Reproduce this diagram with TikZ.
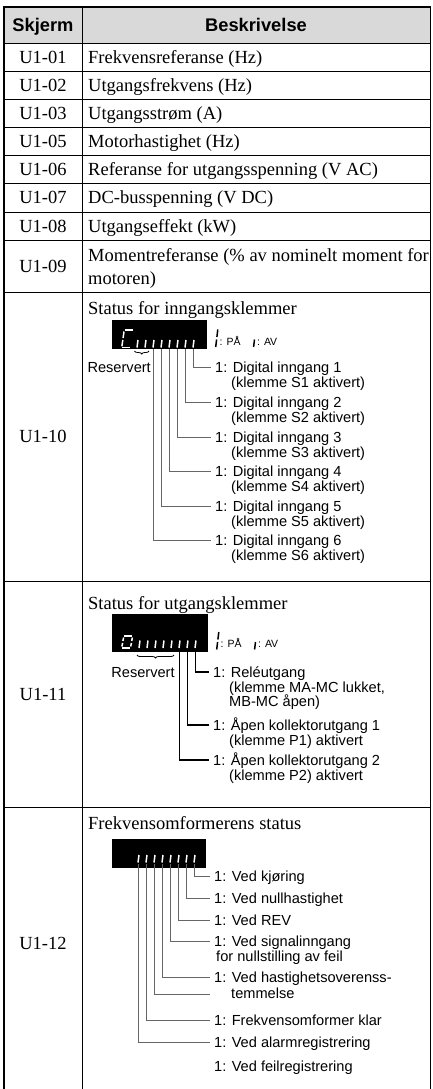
\documentclass[tikz,border=0pt]{standalone}
\usepackage{fontspec}
\setmainfont{Liberation Serif}
\setsansfont{Liberation Sans}
\usetikzlibrary{decorations.pathreplacing}
\definecolor{hdrgray}{gray}{0.85}
\definecolor{leadgray}{gray}{0.4}
\begin{document}
\begin{tikzpicture}[x=1pt,y=-1pt,
  outerline/.style={line width=1.5pt},
  innerline/.style={line width=0.9pt},
  hdr/.style={font=\sffamily\bfseries\fontsize{18.3}{20}\selectfont, inner sep=0pt, text height=13.1pt, text depth=0pt},
  code/.style={font=\fontsize{18.5}{22}\selectfont, inner sep=0pt, text height=12.2pt, text depth=0pt},
  desc/.style={font=\fontsize{18.5}{22}\selectfont, inner sep=0pt, text height=12.2pt, text depth=0pt, anchor=west},
  lbl/.style={font=\sffamily\fontsize{14.6}{15}\selectfont, inner sep=0pt, text height=10.5pt, text depth=0pt, anchor=west},
  tinytxt/.style={font=\sffamily\fontsize{10.5}{12}\selectfont, inner sep=0pt, text height=7.5pt, text depth=0pt, anchor=west},
  lcd/.style={fill=black, draw=none},
  seg/.style={white, line width=1.5pt},
  segb/.style={black, line width=1.5pt},
  leadA/.style={leadgray, line width=1pt},
  leadB/.style={black, line width=1.3pt},
  rbrace/.style={decorate, decoration={brace, mirror, amplitude=3pt}, line width=0.8pt},
]
\useasboundingbox (0,0) rectangle (432,1089);
% ---------- table grid ----------
\fill[hdrgray] (4,7) rectangle (430.5,43);
\foreach \yy in {43,71,99,127,155,183,212,240,292,581,807}
  \draw[innerline] (4,\yy) -- (430.5,\yy);
\draw[innerline] (82,7) -- (82,1089);
\draw[outerline] (4,1089) -- (4,7) -- (430.5,7) -- (430.5,1089);
% ---------- header ----------
\node[hdr] (h1) at (43,25) {Skjerm};
\node[hdr] (h2) at (256,25) {Beskrivelse};
% ---------- codes ----------
\node[code] (c01) at (43,57) {U1-01};
\node[code] (c02) at (43,85) {U1-02};
\node[code] (c03) at (43,113) {U1-03};
\node[code] (c05) at (43,141) {U1-05};
\node[code] (c06) at (43,169) {U1-06};
\node[code] (c07) at (43,197.5) {U1-07};
\node[code] (c08) at (43,226) {U1-08};
\node[code] (c09) at (43,266) {U1-09};
\node[code] (c10) at (43,436.5) {U1-10};
\node[code] (c11) at (43,694) {U1-11};
\node[code] (c12) at (43,943) {U1-12};
% ---------- descriptions ----------
\node[desc] (d01) at (88,57) {Frekvensreferanse (Hz)};
\node[desc] (d02) at (88,85) {Utgangsfrekvens (Hz)};
\node[desc] (d03) at (88,113) {Utgangsstrøm (A)};
\node[desc] (d05) at (88,141) {Motorhastighet (Hz)};
\node[desc] (d06) at (88,169) {Referanse for utgangsspenning (V AC)};
\node[desc] (d07) at (88,197.5) {DC-busspenning (V DC)};
\node[desc] (d08) at (88,226) {Utgangseffekt (kW)};
\node[desc] (d09a) at (88,255) {Momentreferanse (\% av nominelt moment for};
\node[desc] (d09b) at (88,278) {motoren)};
\node[desc] (d10) at (88,308) {Status for inngangsklemmer};
\node[desc] (d11) at (88,603) {Status for utgangsklemmer};
\node[desc] (d12) at (88,823) {Frekvensomformerens status};

% ================= U1-10 =================
\fill[lcd] (112,320) rectangle (207,349);
% C glyph
\draw[seg] (124.5,330) -- (132.5,330);
\draw[seg] (124,331.5) -- (123.1,338);
\draw[seg] (122.8,340) -- (121.9,346.3);
\draw[seg] (122.3,347.3) -- (130,347.3);
\foreach \k in {0,...,7}{
  \pgfmathsetmacro\mx{137+8*\k}
  \draw[seg] (\mx,347.5) -- ++(1,-7.5);
  \coordinate (a\k) at (\mx+0.5,349);
}
% legend
\draw[segb] (217.8,329.5) -- (216.9,337);
\draw[segb] (216.6,339.5) -- (215.7,347);
\node[tinytxt] (pa10) at (219.5,342) {: PÅ};
\draw[segb] (254.5,339.5) -- (253.6,347);
\node[tinytxt] (av10) at (257,342) {: AV};
% reserved
\draw[rbrace] (134.5,351) -- (149,351);
\node[lbl, anchor=east] (r10) at (151,367) {Reservert};
% labels
\node[lbl] (i1) at (215,367) {1: Digital inngang 1};
\node[lbl] (i1b) at (231,382) {(klemme S1 aktivert)};
\node[lbl] (i2) at (215,402) {1: Digital inngang 2};
\node[lbl] (i2b) at (231,417) {(klemme S2 aktivert)};
\node[lbl] (i3) at (215,437) {1: Digital inngang 3};
\node[lbl] (i3b) at (231,452) {(klemme S3 aktivert)};
\node[lbl] (i4) at (215,471) {1: Digital inngang 4};
\node[lbl] (i4b) at (231,486) {(klemme S4 aktivert)};
\node[lbl] (i5) at (215,506) {1: Digital inngang 5};
\node[lbl] (i5b) at (231,521) {(klemme S5 aktivert)};
\node[lbl] (i6) at (215,540) {1: Digital inngang 6};
\node[lbl] (i6b) at (231,555) {(klemme S6 aktivert)};
\foreach \k/\n in {7/1,6/2,5/3,4/4,3/5,2/6}
  \draw[leadA] (a\k) |- ([xshift=-4pt]i\n.west);

% ================= U1-11 =================
\fill[lcd] (112,614) rectangle (208,652);
% O glyph
\draw[seg] (124.3,636) -- (131.8,636);
\draw[seg] (123.6,637.5) -- (122.9,641);
\draw[seg] (122.6,643) -- (121.9,646.5);
\draw[seg] (122.4,648) -- (130,648);
\draw[seg] (132.4,637.5) -- (131.7,641);
\draw[seg] (131.4,643) -- (130.7,646.5);
\foreach \k in {0,...,7}{
  \pgfmathsetmacro\mx{139+8*\k}
  \draw[seg] (\mx,648) -- ++(1,-7.5);
  \coordinate (b\k) at (\mx+0.5,652);
}
% legend
\draw[segb] (218.8,632) -- (217.9,639.5);
\draw[segb] (217.6,642) -- (216.7,649.5);
\node[tinytxt] (pa11) at (220.5,644) {: PÅ};
\draw[segb] (255.5,642) -- (254.6,649.5);
\node[tinytxt] (av11) at (258,644) {: AV};
% reserved
\draw[rbrace] (137,655) -- (174,655);
\node[lbl, anchor=center] (r11) at (143,672) {Reservert};
% labels
\node[lbl] (o1) at (213,672) {1: Reléutgang};
\node[lbl] (o1b) at (229,687) {(klemme MA-MC lukket,};
\node[lbl] (o1c) at (229,701) {MB-MC åpen)};
\node[lbl] (o2) at (213,725) {1: Åpen kollektorutgang 1};
\node[lbl] (o2b) at (229,740) {(klemme P1) aktivert};
\node[lbl] (o3) at (213,760) {1: Åpen kollektorutgang 2};
\node[lbl] (o3b) at (229,775) {(klemme P2) aktivert};
\foreach \k/\n in {7/1,6/2,5/3}
  \draw[leadB] (b\k) |- ([xshift=-4pt]o\n.west);

% ================= U1-12 =================
\fill[lcd] (112,839) rectangle (206,868);
\foreach \k in {0,...,7}{
  \pgfmathsetmacro\mx{138+8*\k}
  \draw[seg] (\mx,862.5) -- ++(1,-7.5);
  \coordinate (s\k) at (\mx+0.5,864);
}
\node[lbl] (f1) at (214,876) {1: Ved kjøring};
\node[lbl] (f2) at (214,898) {1: Ved nullhastighet};
\node[lbl] (f3) at (214,920) {1: Ved REV};
\node[lbl] (f4) at (214,941) {1: Ved signalinngang};
\node[lbl] (f4b) at (216,956) {for nullstilling av feil};
\node[lbl] (f5) at (214,977) {1: Ved hastighetsoverenss-};
\node[lbl] (f5b) at (231,993) {temmelse};
\node[lbl] (f6) at (214,1020) {1: Frekvensomformer klar};
\node[lbl] (f7) at (214,1042) {1: Ved alarmregistrering};
\node[lbl] (f8) at (214,1066) {1: Ved feilregistrering};
\coordinate (tm) at (210,994);
\foreach \k/\n in {7/1,6/2,5/3,4/4,3/5,1/6,0/7}
  \draw[leadA] (s\k) |- ([xshift=-4pt]f\n.west);
\draw[leadA] (s2) |- (tm);
\end{tikzpicture}
\end{document}
